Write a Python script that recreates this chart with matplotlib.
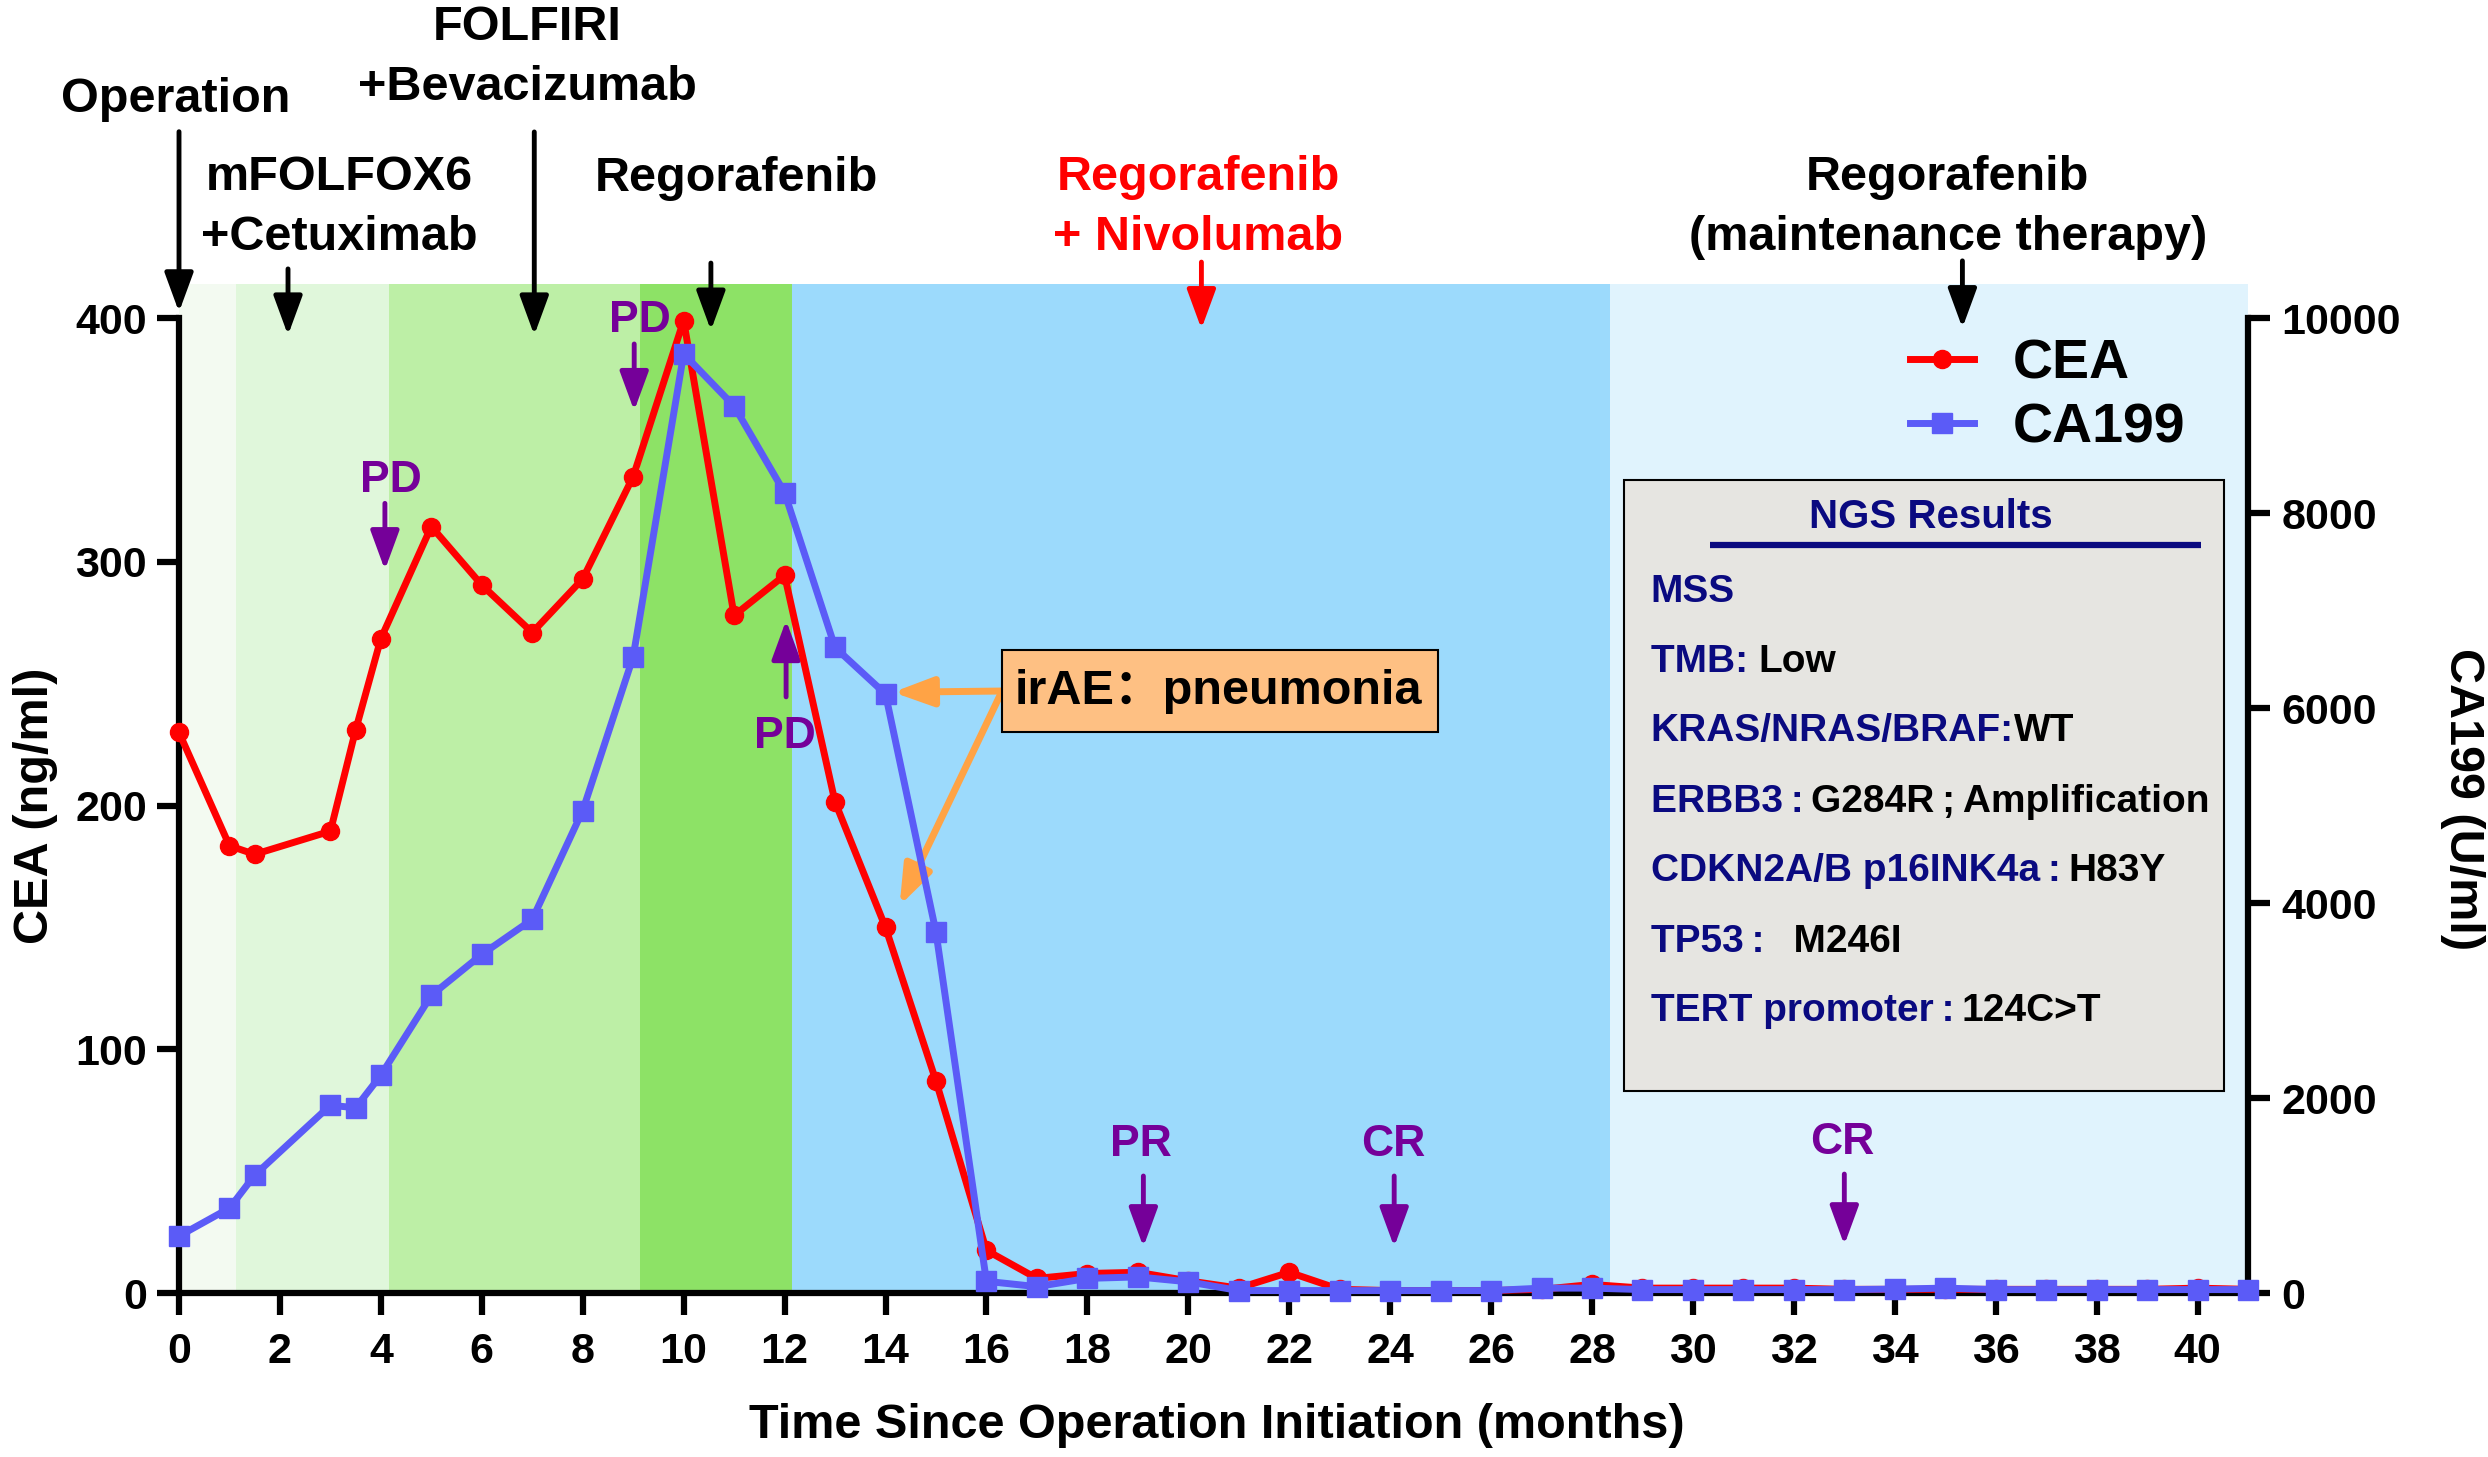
import matplotlib
matplotlib.use('Agg')
import matplotlib.pyplot as plt
from matplotlib.lines import Line2D
from matplotlib.patches import Rectangle

plt.rcParams['font.family'] = ['Liberation Sans', 'Noto Sans CJK SC', 'DejaVu Sans']
plt.rcParams['font.weight'] = 'bold'

# ---- data (months since operation) ----
months = [0, 1, 1.5, 3, 3.5, 4, 5, 6, 7, 8, 9, 10, 11, 12, 13, 14, 15, 16, 17, 18, 19,
          20, 21, 22, 23, 24, 25, 26, 27, 28, 29, 30, 31, 32, 33, 34, 35, 36, 37, 38, 39, 40, 41]
cea = [230, 183.5, 180, 189.5, 231, 268.5, 314.5, 290.5, 271, 293, 335, 399, 278, 294.5,
       201.5, 150, 87, 17.5, 6, 8, 8.5, 5, 2, 8.5, 1.5, 1, 1, 1, 1.5, 3.5, 2, 2, 2, 2,
       1.5, 1.5, 1.5, 1.5, 1.5, 1.5, 1.5, 2, 1.5]
ca199 = [584, 871, 1209, 1926, 1900, 2234, 3053, 3473, 3832, 4949, 6526, 9634, 9098, 8210,
         6622, 6144, 3703, 120, 65, 150, 165, 115, 25, 25, 25, 25, 25, 25, 50, 50, 35, 35,
         35, 35, 35, 40, 50, 35, 35, 35, 35, 35, 35]

# treatment phases
phase_edges = [0, 1.13, 4.16, 9.14, 12.15, 28.35, 41]
phase_colors = ['#f3faf1', '#e0f7db', '#bdefa6', '#8de266', '#9cdafc', '#e0f3fd']

treat_labels = ['Operation', 'mFOLFOX6\n+Cetuximab', 'FOLFIRI\n+Bevacizumab', 'Regorafenib',
                'Regorafenib\n+ Nivolumab', 'Regorafenib\n(maintenance therapy)']
treat_months = [0, 2.16, 7.04, 10.54, 20.26, 35.34]

resp_labels = ['PD', 'PD', 'PD', 'PR', 'CR', 'CR']
resp_months = [4.08, 9.02, 12.03, 19.11, 24.08, 33.0]

TS = '\u2009'
ngs_keys = ['MSS', 'TMB: ', 'KRAS/NRAS/BRAF:', 'ERBB3' + TS + ':' + TS,
            'CDKN2A/B p16INK4a' + TS + ':' + TS, 'TP53' + TS + ':' + TS,
            'TERT promoter' + TS + ':' + TS]
ngs_vals = ['', 'Low', 'WT', 'G284R' + TS + ';' + TS + 'Amplification', 'H83Y', '  M246I',
            '124C>T']

RED = '#ff0000'
BLUE = '#5b5bf7'
PURPLE = '#750099'
NAVY = '#0a0a80'
ORANGE = '#ffa345'

fig = plt.figure(figsize=(24.88, 14.57), dpi=100)
ax = fig.add_axes([0.07195, 0.11256, 0.8316, 0.6925])
ax2 = ax.twinx()

ax.set_xlim(0, 41)
ax.set_ylim(0, 414)
ax2.set_ylim(0, 10350)

for i in range(len(phase_colors)):
    ax.axvspan(phase_edges[i], phase_edges[i + 1], color=phase_colors[i], lw=0, zorder=0)

ax.plot(months, cea, color=RED, lw=5, marker='o', ms=13, zorder=4, clip_on=False)
ax2.plot(months, ca199, color=BLUE, lw=5, marker='s', ms=14, zorder=4, clip_on=False)

# axes styling
for s in ['top', 'right']:
    ax.spines[s].set_visible(False)
for s in ['top', 'left', 'bottom']:
    ax2.spines[s].set_visible(False)
ax.spines['left'].set_bounds(0, 400)
ax2.spines['right'].set_bounds(0, 10000)
for sp in [ax.spines['left'], ax.spines['bottom'], ax2.spines['right']]:
    sp.set_linewidth(4.5)

ax.set_xticks(range(0, 41, 2))
ax.set_yticks([0, 100, 200, 300, 400])
ax2.set_yticks([0, 2000, 4000, 6000, 8000, 10000])
ax.tick_params(axis='x', length=16, width=4.5, labelsize=31, pad=12)
ax.tick_params(axis='y', length=16, width=4.5, labelsize=31, pad=7)
ax2.tick_params(axis='y', length=16, width=4.5, labelsize=31, pad=8)

ax.set_xlabel('Time Since Operation Initiation (months)', fontsize=35, fontweight='bold')
ax.xaxis.set_label_coords(0.5015, -0.131)
ax.xaxis.label.set_va('center')
ax.set_ylabel('CEA (ng/ml)', fontsize=35, fontweight='bold')
ax.yaxis.set_label_coords(-0.0696, 0.483)
ax.yaxis.label.set_va('center')
ax2.set_ylabel('CA199 (U/ml)', fontsize=35, fontweight='bold', rotation=270)
ax2.yaxis.set_label_coords(1.1035, 0.49)
ax2.yaxis.label.set_va('center')


def arrow(x, y0, y1, color, lw=3.5):
    ax.annotate('', xy=(x, y1), xytext=(x, y0), annotation_clip=False,
                arrowprops=dict(arrowstyle='-|>,head_length=0.6,head_width=0.22',
                                color=color, lw=lw, shrinkA=0, shrinkB=0,
                                mutation_scale=40))


# treatment labels and arrows (y = baseline of the last line)
treat_text_pos = [(-0.06, 484.6), (3.17, 428), (6.9, 489.5), (11.04, 452.2),
                  (20.2, 428), (35.05, 428)]
treat_arrow_y = [(476.5, 402.5), (420.2, 393), (476.4, 393), (422.6, 395),
                 (423, 395.6), (423.5, 396)]
for i, lab in enumerate(treat_labels):
    c = RED if 'Nivolumab' in lab else 'black'
    tx, ty = treat_text_pos[i]
    ax.text(tx, ty, lab, ha='center', va='baseline', fontsize=35, color=c,
            linespacing=1.42, multialignment='center', clip_on=False)
    arrow(treat_months[i], treat_arrow_y[i][0], treat_arrow_y[i][1], c)

# response evaluations
resp_text_pos = [(4.2, 328.7), (9.14, 394.3), (12.0, 223.6), (19.07, 56.2),
                 (24.06, 56.2), (32.96, 57)]
resp_arrow_y = [(324, 296.7), (389.4, 362), (244.6, 276), (48, 18.9),
                (48, 18.9), (48.8, 19.7)]
for i, lab in enumerate(resp_labels):
    tx, ty = resp_text_pos[i]
    ax.text(tx, ty, lab, ha='center', va='baseline', fontsize=32, color=PURPLE,
            clip_on=False, zorder=6)
    arrow(resp_months[i], resp_arrow_y[i][0], resp_arrow_y[i][1], PURPLE)

# irAE box
ax.add_patch(Rectangle((16.31, 230.2), 8.63, 33.6, facecolor='#fec083',
                       edgecolor='black', lw=1.5, zorder=6))
ax.text(20.6, 247, 'irAE：pneumonia', ha='center', va='center', fontsize=35,
        color='black', zorder=7)
for tip in [(14.15, 246.5), (14.28, 159)]:
    ax.annotate('', xy=tip, xytext=(16.31, 247), zorder=5,
                arrowprops=dict(arrowstyle='-|>,head_length=0.6,head_width=0.22',
                                color=ORANGE, lw=5, shrinkA=0, shrinkB=0,
                                mutation_scale=40))

# NGS results box
ax.add_patch(Rectangle((28.64, 82.9), 11.88, 250.7, facecolor='#e6e5e1',
                       edgecolor='black', lw=1.5, zorder=6))
ax.text(34.71, 313.8, 'NGS Results', ha='center', va='baseline', fontsize=29,
        color=NAVY, zorder=7)
ax.plot([30.33, 40.06], [306.9, 306.9], color=NAVY, lw=4.5, zorder=7,
        solid_capstyle='butt')
ngs_y = [283.6, 254.9, 226.3, 197.4, 169.1, 139.9, 111.6]
key_texts = []
for i, k in enumerate(ngs_keys):
    key_texts.append(ax.text(29.16, ngs_y[i], k, ha='left', va='baseline', fontsize=28,
                             color=NAVY, zorder=7))
fig.canvas.draw()
renderer = fig.canvas.get_renderer()
for i, t in enumerate(key_texts):
    if ngs_vals[i]:
        bb = t.get_window_extent(renderer)
        x1 = ax.transData.inverted().transform((bb.x1, bb.y0))[0]
        ax.text(x1, ngs_y[i], ngs_vals[i], ha='left', va='baseline', fontsize=28,
                color='black', zorder=7)

# legend
handles = [Line2D([], [], color=RED, lw=5, marker='o', ms=13),
           Line2D([], [], color=BLUE, lw=5, marker='s', ms=14)]
fig.legend(handles, ['CEA', 'CA199'], loc='upper left', bbox_to_anchor=(0.7677, 0.768),
           frameon=False, fontsize=40, borderpad=0, borderaxespad=0, handlelength=1.15,
           handletextpad=0.7, labelspacing=0.22, numpoints=1)

fig.savefig('out.png', dpi=100)
